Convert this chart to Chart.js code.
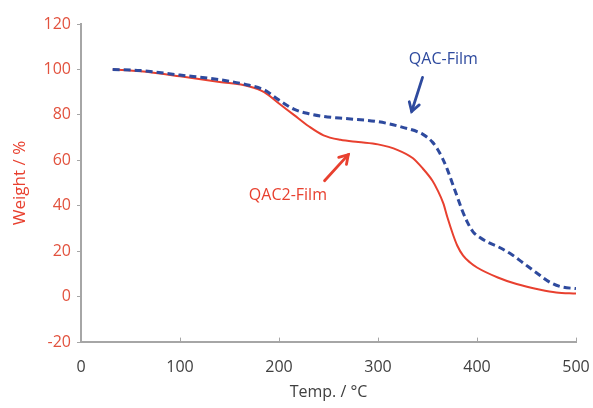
<!DOCTYPE html>
<html>
<head>
<meta charset="utf-8">
<script src="https://cdn.jsdelivr.net/npm/chart.js@4/dist/chart.umd.min.js"></script>
<style>
  html, body { margin: 0; padding: 0; background: #fff; }
  #wrap { width: 593px; height: 408px; }
</style>
</head>
<body>
<div id="wrap"><canvas id="myChart"></canvas></div>
<script>
// temperature (°C) and weight (%)
let qac2Temp = [32, 60, 100, 140, 170, 185, 200, 215, 230, 245, 262, 280, 300, 320, 335, 345, 355, 360, 366, 370, 376, 380, 386, 393, 400, 421, 440, 464, 480, 500];
let qac2Weight = [100, 99.2, 97, 94.5, 92.5, 90, 85, 80, 75, 71, 69, 68, 67, 64.5, 61, 56.5, 51, 47, 41, 35, 27, 22.5, 18, 15, 12.8, 8.4, 5.5, 3, 1.8, 1.3];

let qacTemp = [32, 60, 100, 140, 170, 185, 200, 215, 230, 245, 270, 300, 325, 345, 355, 360, 365, 370, 375, 380, 385, 390, 396, 403, 413, 421, 435, 446, 460, 474, 485, 500];
let qacWeight = [100, 99.5, 97.5, 95.5, 93, 91, 86.5, 82.5, 80.5, 79.3, 78.3, 77, 74.5, 71.5, 68, 65, 61, 56, 50, 44, 38, 33, 28.5, 26, 23.5, 22, 18.5, 15, 10.5, 6.2, 4.3, 3.5];

let xTicks = [0, 100, 200, 300, 400, 500];
let yTicks = [-20, 0, 20, 40, 60, 80, 100, 120];

let red = '#e8402f';
let blue = '#2e4a9e';
let axisGray = '#a6a6a6';
let font = "'Open Sans', sans-serif";

function toPoints(xs, ys) {
  return xs.map((x, i) => ({ x: x, y: ys[i] }));
}

// text labels with arrows, placed in data units
let notes = [
  { text: 'QAC-Film', color: blue, tx: 366, ty: 104.4, ax0: 345, ay0: 96.5, ax1: 334, ay1: 81.5 },
  { text: 'QAC2-Film', color: red, tx: 209, ty: 44.5, ax0: 246, ay0: 51, ax1: 270, ay1: 62.5 }
];

let notesPlugin = {
  id: 'notes',
  afterDatasetsDraw(chart) {
    let c = chart.ctx;
    let xs = chart.scales.x, ys = chart.scales.y;
    c.save();
    notes.forEach(n => {
      c.fillStyle = n.color;
      c.strokeStyle = n.color;
      c.font = "16px " + font;
      c.textAlign = 'center';
      c.textBaseline = 'middle';
      c.fillText(n.text, xs.getPixelForValue(n.tx), ys.getPixelForValue(n.ty));
      let x0 = xs.getPixelForValue(n.ax0), y0 = ys.getPixelForValue(n.ay0);
      let x1 = xs.getPixelForValue(n.ax1), y1 = ys.getPixelForValue(n.ay1);
      c.lineWidth = 2.8;
      c.lineCap = 'round';
      c.beginPath();
      c.moveTo(x0, y0);
      c.lineTo(x1, y1);
      c.stroke();
      let ang = Math.atan2(y1 - y0, x1 - x0);
      let h = 10;
      c.beginPath();
      c.moveTo(x1 - h * Math.cos(ang - 0.55), y1 - h * Math.sin(ang - 0.55));
      c.lineTo(x1, y1);
      c.lineTo(x1 - h * Math.cos(ang + 0.55), y1 - h * Math.sin(ang + 0.55));
      c.stroke();
    });
    // small inward tick marks on the x axis
    c.strokeStyle = axisGray;
    c.lineWidth = 1;
    xTicks.forEach(v => {
      let px = Math.round(xs.getPixelForValue(v)) + 0.5;
      c.beginPath();
      c.moveTo(px, ys.bottom);
      c.lineTo(px, ys.bottom - 4);
      c.stroke();
    });
    c.restore();
  }
};

let ctx = document.getElementById('myChart').getContext('2d');

let myChart = new Chart(ctx, {
  type: 'line',
  data: {
    datasets: [{
      label: 'QAC-Film',
      data: toPoints(qacTemp, qacWeight),
      borderColor: blue,
      borderWidth: 3,
      borderDash: [7, 4],
      pointRadius: 0,
      cubicInterpolationMode: 'monotone',
      fill: false
    }, {
      label: 'QAC2-Film',
      data: toPoints(qac2Temp, qac2Weight),
      borderColor: red,
      borderWidth: 2,
      pointRadius: 0,
      cubicInterpolationMode: 'monotone',
      fill: false
    }]
  },
  options: {
    responsive: true,
    maintainAspectRatio: false,
    animation: false,
    layout: {
      padding: { top: 24, right: 17, left: 10, bottom: 0 }
    },
    plugins: {
      legend: { display: false },
      tooltip: { enabled: false }
    },
    scales: {
      x: {
        type: 'linear',
        min: 0,
        max: 500,
        afterBuildTicks(scale) {
          scale.ticks = xTicks.map(v => ({ value: v }));
        },
        afterFit(scale) {
          scale.height = 66;
          scale.paddingLeft = 0;
          scale.paddingRight = 0;
        },
        grid: { display: true, drawOnChartArea: false, drawTicks: false, color: axisGray },
        border: { display: true, color: axisGray, width: 2 },
        ticks: {
          color: '#404040',
          padding: 16,
          maxRotation: 0,
          font: { family: font, size: 16 }
        },
        title: {
          display: true,
          text: 'Temp. / °C',
          color: '#404040',
          padding: { top: 2, bottom: 6 },
          font: { family: font, size: 16 }
        }
      },
      y: {
        min: -20,
        max: 120,
        afterBuildTicks(scale) {
          scale.ticks = yTicks.map(v => ({ value: v }));
        },
        afterFit(scale) {
          scale.width = 71;
          scale.paddingTop = 0;
          scale.paddingBottom = 0;
        },
        grid: { display: true, drawOnChartArea: false, drawTicks: true, tickLength: 4, color: axisGray },
        border: { display: true, color: axisGray, width: 2 },
        ticks: {
          color: '#e2523e',
          padding: 6,
          font: { family: font, size: 16 }
        },
        title: {
          display: true,
          text: 'Weight / %',
          color: red,
          padding: { top: 0, bottom: 4 },
          font: { family: font, size: 17 }
        }
      }
    }
  },
  plugins: [notesPlugin]
});
</script>
</body>
</html>
